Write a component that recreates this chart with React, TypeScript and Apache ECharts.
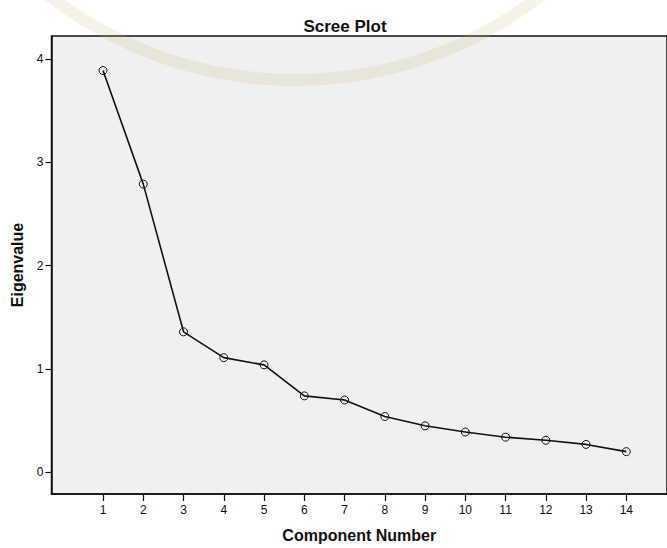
import React, { useEffect, useRef } from "react";
import * as echarts from "echarts";

const components = [1, 2, 3, 4, 5, 6, 7, 8, 9, 10, 11, 12, 13, 14];
const eigenvalues = [3.89, 2.79, 1.36, 1.11, 1.04, 0.74, 0.7, 0.54, 0.45, 0.39, 0.34, 0.31, 0.27, 0.2];
const yTicks = [0, 1, 2, 3, 4];
const xTicks = components;

const FONT = "'Liberation Sans', Arial, sans-serif";

export default function App() {
  const ref = useRef<HTMLDivElement>(null);
  useEffect(() => {
    if (!ref.current) return;
    const chart = echarts.init(ref.current, null, { renderer: "svg" });
    const data = components.map((c, i) => [c, eigenvalues[i]]);
    chart.setOption({
      animation: false,
      backgroundColor: "#ffffff",
      title: {
        text: "Scree Plot",
        left: 340,
        top: 13,
        textAlign: "center",
        textStyle: { fontFamily: FONT, fontSize: 17, fontWeight: "bold", color: "#111" },
      },
      graphic: [
        {
          type: "circle",
          silent: true,
          z: 100,
          shape: { cx: 295, cy: -320, r: 400 },
          style: { fill: "none", stroke: "rgba(205,180,120,0.17)", lineWidth: 12 },
        },
      ],
      grid: {
        left: 51.5,
        top: 36,
        right: 0,
        bottom: 548 - 496.7,
        show: true,
        backgroundColor: "#f0f0f0",
        borderColor: "#111",
        borderWidth: 1.5,
      },
      xAxis: {
        type: "value",
        min: -0.28,
        max: 15.01,
        name: "Component Number",
        nameLocation: "middle",
        nameGap: 33,
        nameTextStyle: { fontFamily: FONT, fontSize: 16, fontWeight: "bold", color: "#111" },
        axisLine: { show: true, onZero: false, lineStyle: { color: "#111", width: 1.5 } },
        axisTick: { show: true, length: 7, lineStyle: { color: "#111", width: 1.2 }, customValues: xTicks },
        axisLabel: { fontFamily: FONT, fontSize: 12, color: "#111", margin: 10, customValues: xTicks },
        splitLine: { show: false },
      },
      yAxis: {
        type: "value",
        min: -0.21,
        max: 4.224,
        name: "Eigenvalue",
        nameLocation: "middle",
        nameGap: 24,
        nameTextStyle: { fontFamily: FONT, fontSize: 16, fontWeight: "bold", color: "#111" },
        axisLine: { show: true, onZero: false, lineStyle: { color: "#111", width: 1.5 } },
        axisTick: { show: true, length: 6, lineStyle: { color: "#111", width: 1.2 }, customValues: yTicks },
        axisLabel: { fontFamily: FONT, fontSize: 12, color: "#111", margin: 8, customValues: yTicks },
        splitLine: { show: false },
      },
      series: [
        {
          type: "line",
          data,
          symbol: "circle",
          symbolSize: 8,
          itemStyle: { color: "rgba(0,0,0,0)", borderColor: "#111", borderWidth: 1 },
          lineStyle: { color: "#111", width: 1.6 },
          z: 3,
        },
      ],
    });
    return () => chart.dispose();
  }, []);
  return (
    <div
      ref={ref}
      style={{ position: "fixed", left: 0, top: 0, width: 667, height: 548 }}
    />
  );
}
